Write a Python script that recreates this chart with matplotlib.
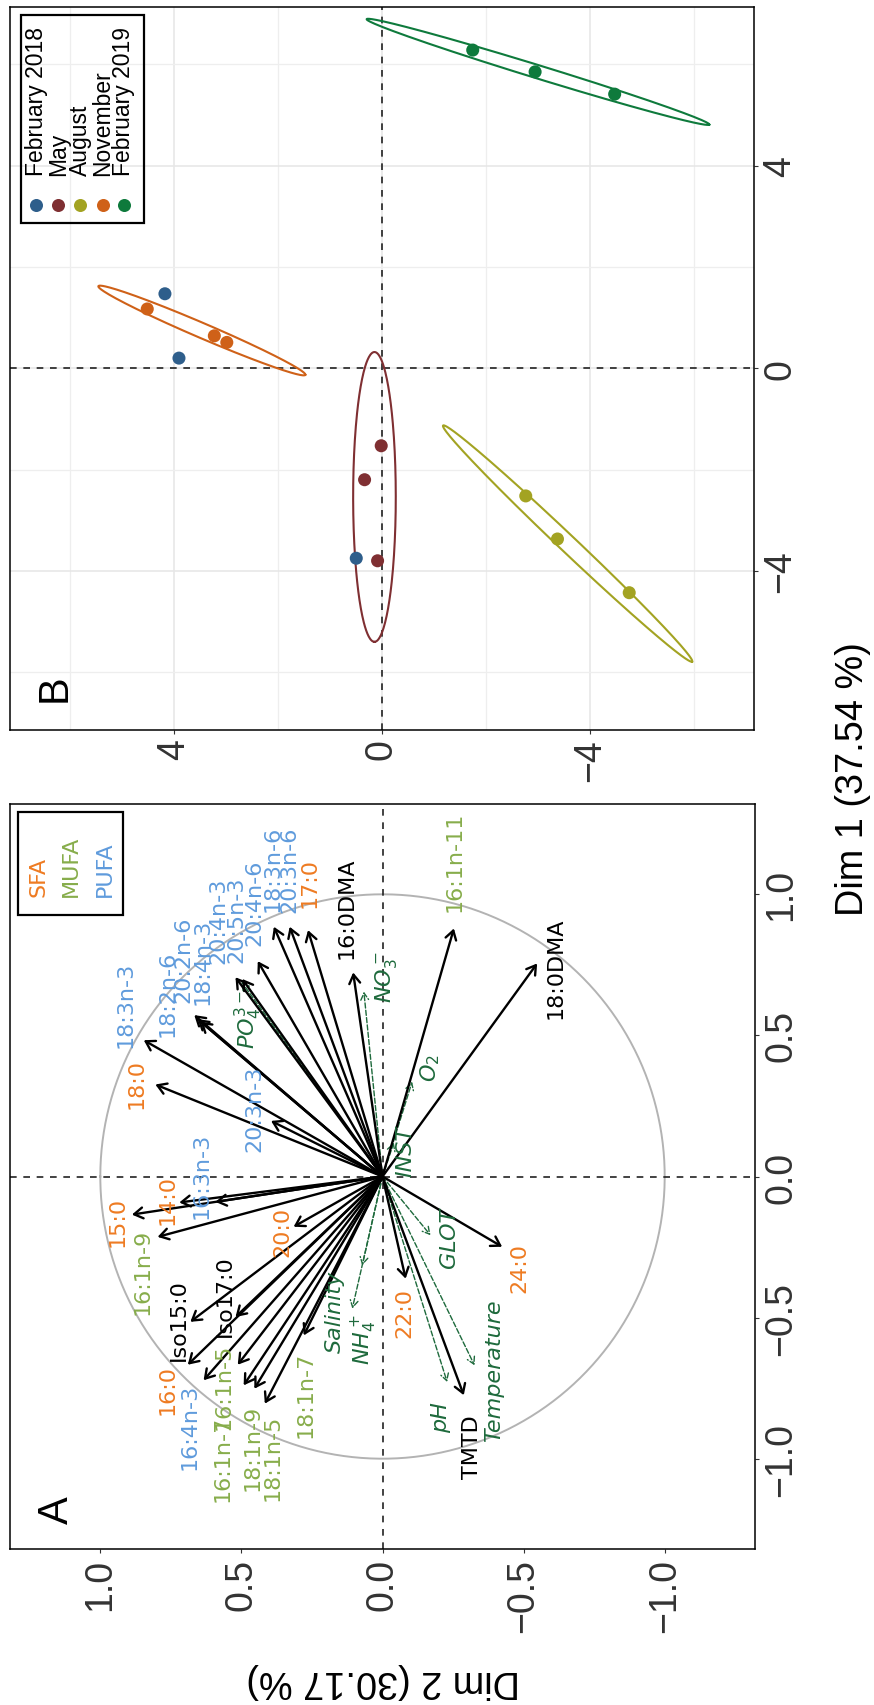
import numpy as np
import matplotlib
matplotlib.use('Agg')
import matplotlib.pyplot as plt
from matplotlib.patches import Rectangle

plt.rcParams['font.family'] = ['Liberation Sans', 'DejaVu Sans']
plt.rcParams['mathtext.fontset'] = 'dejavusans'
plt.rcParams['axes.unicode_minus'] = True

# ---- panel A: variables (Dim 1, Dim 2 coordinates of arrow tips) ----
fa_names = ['18:3n-3', '18:0', '20:3n-3', '18:2n-6', '20:2n-6', '18:4n-3', '20:4n-3', '20:5n-3',
            '20:4n-6', '18:3n-6', '20:3n-6', '17:0', '16:0DMA', '16:1n-11', '18:0DMA',
            '15:0', '14:0', '16:3n-3', '16:1n-9', '20:0', 'Iso15:0', 'Iso17:0', '16:0', '16:4n-3',
            '16:1n-5', '16:1n-7', '18:1n-9', '18:1n-5', '18:1n-7', '24:0', '22:0', 'TMTD']
fa_group = ['PUFA', 'SFA', 'PUFA', 'PUFA', 'PUFA', 'PUFA', 'PUFA', 'PUFA',
            'PUFA', 'PUFA', 'PUFA', 'SFA', 'other', 'MUFA', 'other',
            'SFA', 'SFA', 'PUFA', 'MUFA', 'SFA', 'other', 'other', 'SFA', 'PUFA',
            'MUFA', 'MUFA', 'MUFA', 'MUFA', 'MUFA', 'SFA', 'SFA', 'other']
fa_dim1 = [0.483, 0.326, 0.197, 0.572, 0.558, 0.549, 0.706, 0.700,
           0.763, 0.885, 0.885, 0.873, 0.723, 0.879, 0.755,
           -0.135, -0.092, -0.090, -0.214, -0.178, -0.515, -0.498, -0.667, -0.722,
           -0.667, -0.740, -0.752, -0.805, -0.563, -0.249, -0.362, -0.775]
fa_dim2 = [0.846, 0.805, 0.395, 0.667, 0.655, 0.645, 0.521, 0.497,
           0.442, 0.385, 0.329, 0.264, 0.104, -0.253, -0.548,
           0.888, 0.720, 0.592, 0.797, 0.315, 0.681, 0.521, 0.690, 0.634,
           0.513, 0.492, 0.454, 0.417, 0.279, -0.424, -0.082, -0.288]
# label anchor points (repelled)
fa_lab_dim1 = [0.613, 0.333, 0.244, 0.649, 0.773, 0.765, 0.909, 0.912,
               0.972, 1.092, 1.092, 1.043, 0.954, 1.119, 0.741,
               -0.157, -0.080, 0.007, -0.334, -0.193, -0.504, -0.421, -0.754, -0.882,
               -0.740, -0.996, -0.959, -0.994, -0.770, -0.320, -0.480, -0.955]
fa_lab_dim2 = [0.909, 0.870, 0.454, 0.763, 0.705, 0.639, 0.580, 0.519,
               0.454, 0.391, 0.329, 0.258, 0.127, -0.255, -0.613,
               0.939, 0.763, 0.642, 0.852, 0.356, 0.720, 0.560, 0.763, 0.684,
               0.563, 0.566, 0.460, 0.389, 0.271, -0.486, -0.078, -0.318]

# supplementary (environmental) variables
env_names = [r'$PO_4^{3-}$', r'$NO_3^-$', r'$O_2$', 'INST', 'GLOT', 'Salinity',
             r'$NH_4^+$', 'pH', 'Temperature']
env_dim1 = [0.690, 0.655, 0.336, 0.120, -0.208, -0.315, -0.468, -0.728, -0.669]
env_dim2 = [0.500, 0.066, -0.105, -0.040, -0.170, 0.072, 0.107, -0.229, -0.326]
env_lab_dim1 = [0.560, 0.709, 0.389, 0.092, -0.214, -0.476, -0.574, -0.852, -0.683]
env_lab_dim2 = [0.474, -0.011, -0.170, -0.082, -0.235, 0.167, 0.064, -0.206, -0.397]

group_colors = {'SFA': '#EE7B22', 'MUFA': '#87AD4B', 'PUFA': '#5F9BDC', 'other': 'black'}
env_color = '#1E6A3C'

# ---- panel B: individuals ----
seasons = ['February 2018', 'May', 'August', 'November', 'February 2019']
season_colors = ['#2E5E8B', '#7F2F32', '#A3A322', '#CF6118', '#0E7A3C']
ind_season = [0, 0, 0, 1, 1, 1, 2, 2, 2, 3, 3, 3, 4, 4, 4]
ind_dim1 = [1.47, 0.20, -3.75, -1.53, -2.20, -3.80, -2.52, -3.37, -4.43,
            1.17, 0.64, 0.51, 6.28, 5.85, 5.41]
ind_dim2 = [4.17, 3.90, 0.49, 0.01, 0.33, 0.08, -2.77, -3.38, -4.76,
            4.51, 3.22, 2.98, -1.75, -2.95, -4.48]
# ellipses: major axis end points (dim2, dim1) and half width
ell_season = [1, 2, 3, 4]
ell_p1 = [(0.14, 0.32), (-1.18, -1.13), (5.45, 1.62), (0.29, 6.89)]
ell_p2 = [(0.14, -5.40), (-5.97, -5.79), (1.47, -0.13), (-6.30, 4.81)]
ell_w = [0.41, 0.165, 0.147, 0.13]

W, H = 874, 1706
fig = plt.figure(figsize=(W / 100, H / 100), dpi=100)


def style_axes(ax):
    for s in ax.spines.values():
        s.set_linewidth(1.1)
        s.set_color('black')
    ax.yaxis.tick_right()
    ax.tick_params(axis='both', which='major', length=3.2, width=0.8, color='#333333',
                   labelsize=27, labelcolor='#333333', pad=3)
    ax.tick_params(axis='both', which='minor', length=0)
    ax.tick_params(axis='x', labelrotation=90)
    ax.tick_params(axis='y', labelrotation=90)
    for lbl in ax.get_yticklabels():
        lbl.set_va('center')


# ---------------- panel A ----------------
axA = fig.add_axes([10 / W, 1 - 1550 / H, 745 / W, 745 / H])
axA.set_xlim(1.32, -1.32)
axA.set_ylim(-1.32, 1.32)
t = np.linspace(0, 2 * np.pi, 400)
axA.plot(np.cos(t), np.sin(t), color='#b3b3b3', lw=1.4, zorder=1)
axA.axhline(0, color='#222222', lw=1.2, ls=(0, (4, 4)), zorder=1)
axA.axvline(0, color='#222222', lw=1.2, ls=(0, (4, 4)), zorder=1)

for d1, d2 in zip(env_dim1, env_dim2):
    axA.annotate('', xy=(d2, d1), xytext=(0, 0),
                 arrowprops=dict(arrowstyle='->,head_length=0.35,head_width=0.2', color=env_color,
                                 lw=1.0, ls='--', shrinkA=0, shrinkB=0, mutation_scale=14), zorder=2)
for d1, d2 in zip(fa_dim1, fa_dim2):
    axA.annotate('', xy=(d2, d1), xytext=(0, 0),
                 arrowprops=dict(arrowstyle='->,head_length=0.45,head_width=0.28', color='black',
                                 lw=1.7, shrinkA=0, shrinkB=0, mutation_scale=14), zorder=3)

for name, g, l1, l2 in zip(fa_names, fa_group, fa_lab_dim1, fa_lab_dim2):
    axA.text(l2, l1, name, rotation=90, ha='center', va='center', fontsize=16,
             color=group_colors[g], family='DejaVu Sans', zorder=4)
for name, l1, l2 in zip(env_names, env_lab_dim1, env_lab_dim2):
    axA.text(l2, l1, name, rotation=90, ha='center', va='center', fontsize=16,
             color=env_color, family='DejaVu Sans', style='italic', zorder=4)

axA.set_xticks([1.0, 0.5, 0.0, -0.5, -1.0], labels=['1.0', '0.5', '0.0', '\u22120.5', '\u22121.0'])
axA.set_yticks([1.0, 0.5, 0.0, -0.5, -1.0], labels=['1.0', '0.5', '0.0', '\u22120.5', '\u22121.0'])
style_axes(axA)

axA.text(0.063, 0.054, 'A', transform=axA.transAxes, rotation=90, fontsize=30,
         ha='center', va='center')
# group legend
axA.add_patch(Rectangle((0.0113, 0.851), 0.1404, 0.1387, transform=axA.transAxes,
                        fill=False, lw=1.6, edgecolor='black', zorder=5))
for xf, g in zip([0.0376, 0.0819, 0.1275], ['SFA', 'MUFA', 'PUFA']):
    axA.text(xf, 0.877, g, transform=axA.transAxes, rotation=90, ha='center', va='bottom',
             fontsize=16, color=group_colors[g], family='DejaVu Sans', zorder=5)

# ---------------- panel B ----------------
axB = fig.add_axes([10 / W, 1 - 731 / H, 744 / W, 723 / H])
axB.set_xlim(7.15, -7.16)
axB.set_ylim(-7.14, 7.13)
axB.set_xticks([4, 0, -4], labels=['4', '0', '\u22124'])
axB.set_xticks([6, 2, -2, -6], minor=True)
axB.set_yticks([4, 0, -4], labels=['4', '0', '\u22124'])
axB.set_yticks([6, 2, -2, -6], minor=True)
axB.grid(which='major', color='#e6e6e6', lw=1.1)
axB.grid(which='minor', color='#eeeeee', lw=0.9)
axB.set_axisbelow(True)
axB.axhline(0, color='#222222', lw=1.2, ls=(0, (4, 4)), zorder=1)
axB.axvline(0, color='#222222', lw=1.2, ls=(0, (4, 4)), zorder=1)

tt = np.linspace(0, 2 * np.pi, 300)
for si, p1, p2, w in zip(ell_season, ell_p1, ell_p2, ell_w):
    p1 = np.array(p1)
    p2 = np.array(p2)
    c = (p1 + p2) / 2
    u = (p2 - p1) / 2
    v = np.array([-u[1], u[0]]) / np.hypot(*u) * w
    ex = c[0] + u[0] * np.cos(tt) + v[0] * np.sin(tt)
    ey = c[1] + u[1] * np.cos(tt) + v[1] * np.sin(tt)
    axB.plot(ex, ey, color=season_colors[si], lw=1.5, zorder=2)

axB.scatter(ind_dim2, ind_dim1, c=[season_colors[s] for s in ind_season], s=88,
            linewidths=0, zorder=3)
style_axes(axB)

axB.text(0.060, 0.059, 'B', transform=axB.transAxes, rotation=90, fontsize=30,
         ha='center', va='center')
axB.add_patch(Rectangle((0.015, 0.701), 0.1646, 0.288, transform=axB.transAxes,
                        fill=False, lw=1.6, edgecolor='black', zorder=5))
for xf, name, col in zip([0.0353, 0.0647, 0.0946, 0.1247, 0.1532], seasons, season_colors):
    axB.scatter([xf], [0.726], transform=axB.transAxes, s=88, color=col, linewidths=0, zorder=6)
    axB.text(xf, 0.767, name, transform=axB.transAxes, rotation=90, ha='center', va='bottom',
             fontsize=16.5, zorder=6)

# axis titles
fig.text(853 / W, 1 - 779 / H, 'Dim 1 (37.54 %)', rotation=90, ha='center', va='center',
         fontsize=27.3)
fig.text(383 / W, 1 - 1681 / H, 'Dim 2 (30.17 %)', rotation=180, ha='center', va='center',
         fontsize=27.3)

fig.savefig('out.png', dpi=100)
